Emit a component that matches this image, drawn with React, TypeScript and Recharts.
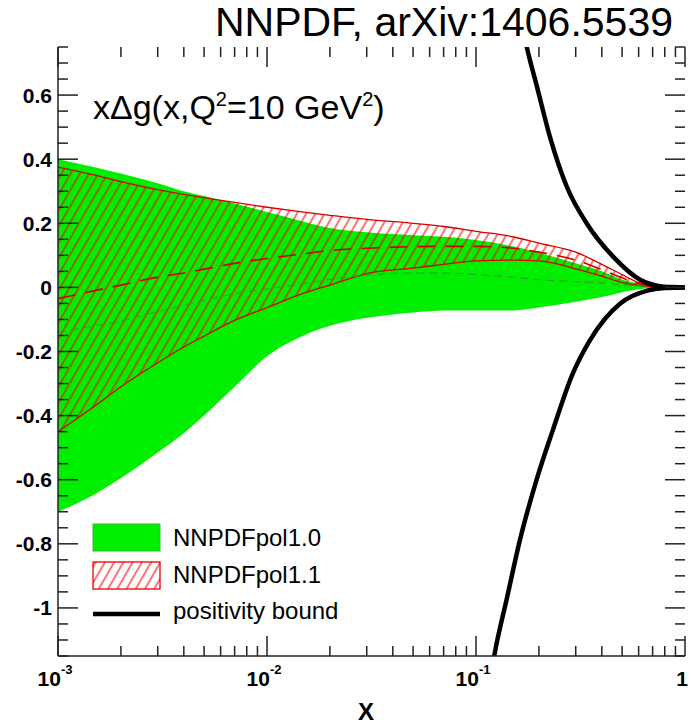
import React from 'react';
import { ComposedChart, Area, Line, XAxis, YAxis } from 'recharts';

// x grid shared by the two PDF sets
const xs = [0.001, 0.0015, 0.002, 0.003, 0.004, 0.005, 0.007, 0.01, 0.015, 0.02, 0.03, 0.05, 0.07, 0.1, 0.15, 0.2, 0.3, 0.4, 0.5, 0.6, 0.7, 0.8, 0.9, 1.0];

// NNPDFpol1.0 band + central value
const pol10Hi = [0.40, 0.375, 0.355, 0.325, 0.30, 0.285, 0.262, 0.235, 0.205, 0.185, 0.172, 0.163, 0.158, 0.148, 0.128, 0.108, 0.075, 0.05, 0.025, 0.012, 0.006, 0.003, 0.001, 0];
const pol10Lo = [-0.70, -0.645, -0.595, -0.515, -0.455, -0.40, -0.31, -0.215, -0.15, -0.12, -0.095, -0.078, -0.072, -0.072, -0.072, -0.063, -0.045, -0.03, -0.015, -0.006, -0.002, 0, 0, 0];
const cen10 = [-0.14, -0.12, -0.105, -0.075, -0.055, -0.04, -0.02, -0.005, 0.012, 0.025, 0.038, 0.045, 0.045, 0.04, 0.032, 0.024, 0.018, 0.014, 0.009, 0.005, 0.002, 0.001, 0, 0];

// NNPDFpol1.1 band + central value
const pol11Hi = [0.375, 0.35, 0.33, 0.305, 0.29, 0.28, 0.265, 0.25, 0.235, 0.225, 0.212, 0.2, 0.19, 0.175, 0.158, 0.138, 0.11, 0.072, 0.04, 0.015, 0.005, 0.002, 0, 0];
const pol11Lo = [-0.45, -0.37, -0.31, -0.235, -0.186, -0.152, -0.103, -0.063, -0.018, 0.007, 0.043, 0.06, 0.072, 0.083, 0.085, 0.083, 0.058, 0.035, 0.015, 0.006, 0.002, 0, 0, 0];
const cen11 = [-0.035, -0.01, 0.007, 0.032, 0.045, 0.057, 0.075, 0.09, 0.105, 0.115, 0.122, 0.127, 0.128, 0.128, 0.122, 0.11, 0.085, 0.055, 0.03, 0.012, 0.004, 0.001, 0, 0];

// positivity bound, upper and lower branch
const boundUpX = [0.165, 0.175, 0.196, 0.226, 0.272, 0.34, 0.453, 0.61, 0.76, 0.88, 1.0];
const boundUpY = [0.83, 0.75, 0.625, 0.469, 0.314, 0.198, 0.096, 0.024, 0.004, 0.001, 0];
const boundLoX = [0.117, 0.123, 0.141, 0.162, 0.195, 0.233, 0.29, 0.35, 0.49, 0.66, 0.8, 1.0];
const boundLoY = [-1.22, -1.14, -0.966, -0.79, -0.60, -0.446, -0.27, -0.166, -0.05, -0.01, -0.002, 0];

const xMajor = [0.001, 0.01, 0.1, 1];

const xTicks: number[] = [];
xMajor.forEach((d) => {
  xTicks.push(d);
  if (d < 1) for (let k = 2; k <= 9; k++) xTicks.push(+(d * k).toPrecision(3));
});
const yTicks: number[] = [];
for (let k = -23; k <= 15; k++) yTicks.push(+(k * 0.05).toFixed(2));

const rows = xs.map((x, i) => ({
  x,
  pol10: [pol10Lo[i], pol10Hi[i]],
  pol11: [pol11Lo[i], pol11Hi[i]],
  cen10: cen10[i],
  cen11: cen11[i],
}));
const boundUp = boundUpX.map((x, i) => ({ x, y: boundUpY[i] }));
const boundLo = boundLoX.map((x, i) => ({ x, y: boundLoY[i] }));

const FONT = '"Liberation Sans", Arial, Helvetica, sans-serif';
const PLOT = { left: 58, right: 685, top: 47, bottom: 656 };
const GREEN = '#00ee00';

const XTick = (props: any) => {
  const { x, payload } = props;
  const v = payload.value;
  const e = Math.round(Math.log10(v));
  const major = Math.abs(Math.log10(v) - e) < 1e-6;
  const len = major ? 20 : 10;
  return (
    <g>
      <line x1={x} x2={x} y1={PLOT.bottom} y2={PLOT.bottom - len} stroke="#222" strokeWidth={1.5} />
      <line x1={x} x2={x} y1={PLOT.top} y2={PLOT.top + len} stroke="#222" strokeWidth={1.5} />
      {major && (e === 0 ? (
        <text x={x - 3} y={686} textAnchor="middle" fontFamily={FONT} fontWeight="bold" fontSize={21}>1</text>
      ) : (
        <text x={x - 3} y={686} textAnchor="middle" fontFamily={FONT} fontWeight="bold" fontSize={21}>
          10<tspan dy={-12} fontSize={13}>{String(e)}</tspan>
        </text>
      ))}
    </g>
  );
};

const YTick = (props: any) => {
  const { y, payload } = props;
  const v = payload.value;
  const major = Math.abs(v * 5 - Math.round(v * 5)) < 1e-6;
  const len = major ? 20 : 10;
  return (
    <g>
      <line x1={PLOT.left} x2={PLOT.left + len} y1={y} y2={y} stroke="#222" strokeWidth={1.5} />
      <line x1={PLOT.right} x2={PLOT.right - len} y1={y} y2={y} stroke="#222" strokeWidth={1.5} />
      {major && (
        <text x={52} y={y + 7.5} textAnchor="end" fontFamily={FONT} fontWeight="bold" fontSize={21}>
          {String(+v.toFixed(1))}
        </text>
      )}
    </g>
  );
};

export default function App() {
  return (
    <div style={{ position: 'absolute', left: 0, top: 0, width: 691, height: 724, background: '#fff' }}>
      <ComposedChart width={691} height={724} data={rows} margin={{ top: 47, right: 6, bottom: 0, left: 0 }}>
        <defs>
          <pattern id="hatch11" patternUnits="userSpaceOnUse" width={8} height={8} patternTransform="rotate(30)">
            <line x1={4} y1={0} x2={4} y2={8} stroke="#ff0000" strokeWidth={1.1} />
          </pattern>
        </defs>

        <XAxis
          dataKey="x" type="number" scale="log" domain={[0.001, 1]} allowDataOverflow
          ticks={xTicks} interval={0} height={68} tickLine={false}
          axisLine={{ stroke: '#222', strokeWidth: 1.5 }} tick={<XTick />}
        />
        <XAxis xAxisId="top" orientation="top" type="number" scale="log" domain={[0.001, 1]} allowDataOverflow
          height={0} tick={false} tickLine={false} axisLine={{ stroke: '#222', strokeWidth: 1.5 }} />
        <YAxis
          type="number" domain={[-1.15, 0.75]} allowDataOverflow ticks={yTicks} interval={0}
          width={58} tickLine={false} axisLine={{ stroke: '#222', strokeWidth: 1.5 }} tick={<YTick />}
        />
        <YAxis yAxisId="right" orientation="right" type="number" domain={[-1.15, 0.75]} allowDataOverflow
          width={0} tick={false} tickLine={false} axisLine={{ stroke: '#222', strokeWidth: 1.5 }} />

        <Area dataKey="pol10" type="monotone" fill={GREEN} fillOpacity={1} stroke="none" isAnimationActive={false} />
        <Line dataKey="cen10" type="monotone" stroke="#2e9b2e" strokeWidth={1} strokeDasharray="8 5" dot={false} isAnimationActive={false} />
        <Area dataKey="pol11" type="monotone" fill="url(#hatch11)" fillOpacity={1} stroke="#d40000" strokeWidth={1.3} isAnimationActive={false} />
        <Line dataKey="cen11" type="monotone" stroke="#cc0000" strokeWidth={1.6} strokeDasharray="18 10" dot={false} isAnimationActive={false} />
        <Line data={boundUp} dataKey="y" type="monotone" stroke="#000" strokeWidth={4.5} dot={false} isAnimationActive={false} />
        <Line data={boundLo} dataKey="y" type="monotone" stroke="#000" strokeWidth={4.5} dot={false} isAnimationActive={false} />

        <text x={673} y={36} textAnchor="end" fontFamily={FONT} fontSize={41}>NNPDF, arXiv:1406.5539</text>
        <text x={93} y={119} fontFamily={FONT} fontSize={34}>
          xΔg(x,Q<tspan dy={-13} fontSize={20}>2</tspan><tspan dy={13}>=10 GeV</tspan><tspan dy={-13} fontSize={20}>2</tspan><tspan dy={13}>)</tspan>
        </text>
        <text x={366} y={720} textAnchor="middle" fontFamily={FONT} fontWeight="bold" fontSize={24}>X</text>

        <g fontFamily={FONT} fontSize={24}>
          <rect x={93} y={524} width={67} height={27} fill={GREEN} stroke="#33bb33" strokeWidth={1} />
          <text x={173} y={546}>NNPDFpol1.0</text>
          <rect x={93} y={562} width={67} height={27} fill="url(#hatch11)" stroke="#ee0000" strokeWidth={1.3} />
          <text x={173} y={583}>NNPDFpol1.1</text>
          <line x1={93} x2={160} y1={614} y2={614} stroke="#000" strokeWidth={4.5} />
          <text x={173} y={619}>positivity bound</text>
        </g>
      </ComposedChart>
    </div>
  );
}
